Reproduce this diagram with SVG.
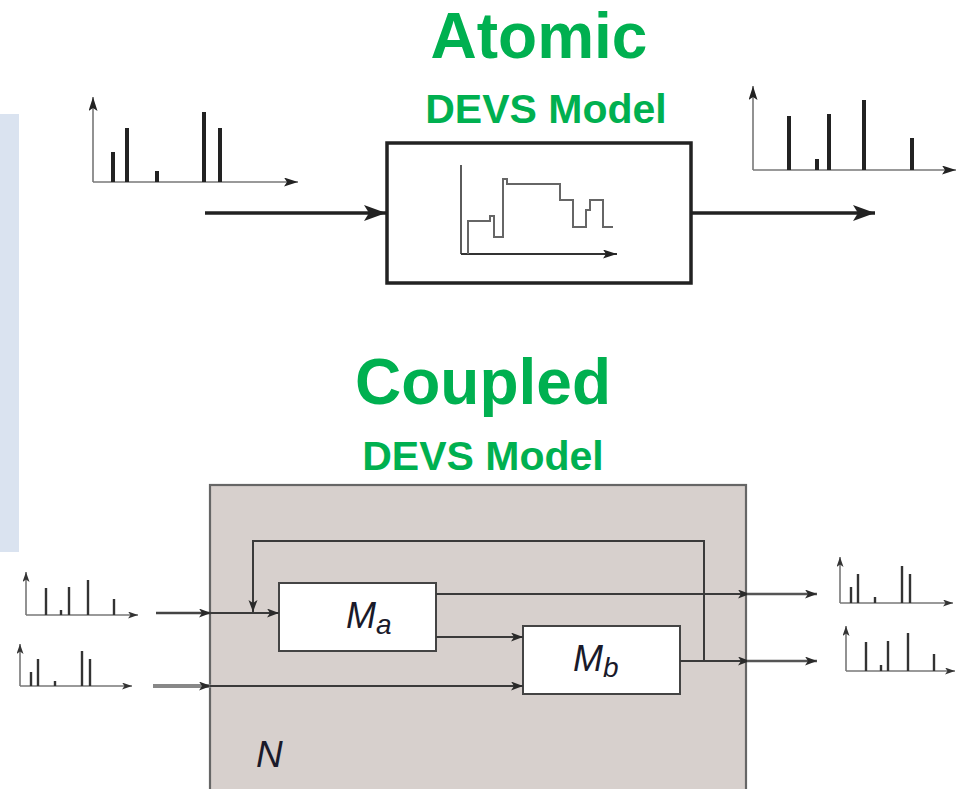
<svg xmlns="http://www.w3.org/2000/svg" width="956" height="789" viewBox="0 0 956 789">
<style>
.title{font-family:"Liberation Sans",Arial,sans-serif;font-weight:bold;fill:#00b050}
.lbl{font-family:"Liberation Sans",Arial,sans-serif;font-style:italic;fill:#1a1a2a}
.ax{stroke:#777;stroke-width:1.6;fill:none}
.spk{stroke:#222;stroke-width:4}
.spks{stroke:#333;stroke-width:2.4}
.big{stroke:#222;stroke-width:3.5;fill:none}
.cl{stroke:#3a3a3a;stroke-width:2;fill:none}
</style>
<defs>
<marker id="mBig" markerUnits="userSpaceOnUse" markerWidth="24" markerHeight="18" refX="22" refY="8" orient="auto"><path d="M0,0 L22,8 L0,16 L5,8 z" fill="#222"/></marker>
<marker id="mSm" markerUnits="userSpaceOnUse" markerWidth="14" markerHeight="10" refX="12" refY="4.5" orient="auto"><path d="M0,0 L12,4.5 L0,9 L3,4.5 z" fill="#2a2a2a"/></marker>
<marker id="mAx" markerUnits="userSpaceOnUse" markerWidth="12" markerHeight="8" refX="10" refY="3.5" orient="auto"><path d="M0,0 L10,3.5 L0,7 L2.5,3.5 z" fill="#333"/></marker>
<marker id="mAxL" markerUnits="userSpaceOnUse" markerWidth="16" markerHeight="10" refX="14" refY="4.5" orient="auto"><path d="M0,0 L14,4.5 L0,9 L3,4.5 z" fill="#222"/></marker>
</defs>
<rect x="0" y="114" width="19" height="438" fill="#dae3f0"/>
<g id="titles">
<text class="title" x="539" y="58" font-size="64" text-anchor="middle">Atomic</text>
<text class="title" x="546" y="123" font-size="41" text-anchor="middle">DEVS Model</text>
<text class="title" x="483" y="404" font-size="64" text-anchor="middle">Coupled</text>
<text class="title" x="483" y="470" font-size="41" text-anchor="middle">DEVS Model</text>
</g>
<g id="atomic">
<rect x="387" y="143" width="304" height="140" fill="#fff" stroke="#222" stroke-width="3.5"/>
<line x1="461" y1="165" x2="461" y2="254" stroke="#333" stroke-width="1.6"/>
<line x1="461" y1="254" x2="617" y2="254" stroke="#333" stroke-width="2" marker-end="url(#mAxL)"/>
<polyline fill="none" stroke="#666" stroke-width="2" points="468,254 468,221 490,221 490,216 494,216 494,237 503,237 503,179 507,179 507,184 560,184 560,200 573,200 573,227 586,227 586,210 590,210 590,200 603,200 603,227 613,227"/>
</g>
<g id="input-chart">
<line class="ax" x1="93" y1="182" x2="93" y2="97" marker-end="url(#mAxL)"/>
<line class="ax" x1="93" y1="182" x2="298" y2="182" marker-end="url(#mAxL)"/>
<line class="spk" x1="113" y1="182" x2="113" y2="152"/>
<line class="spk" x1="127" y1="182" x2="127" y2="128"/>
<line class="spk" x1="157" y1="182" x2="157" y2="171"/>
<line class="spk" x1="204" y1="182" x2="204" y2="112"/>
<line class="spk" x1="220" y1="182" x2="220" y2="128"/>
</g>
<g id="output-chart">
<line class="ax" x1="753" y1="170" x2="753" y2="86" marker-end="url(#mAxL)"/>
<line class="ax" x1="753" y1="170" x2="956" y2="170" marker-end="url(#mAxL)"/>
<line class="spk" x1="789" y1="170" x2="789" y2="116"/>
<line class="spk" x1="817" y1="170" x2="817" y2="159"/>
<line class="spk" x1="829" y1="170" x2="829" y2="114"/>
<line class="spk" x1="864" y1="170" x2="864" y2="100"/>
<line class="spk" x1="912" y1="170" x2="912" y2="138"/>
</g>
<g id="coupled">
<rect x="210" y="485" width="536" height="310" fill="#d7d0cd" stroke="#666" stroke-width="2.2"/>
<text class="lbl" x="256" y="767" font-size="37">N</text>
</g>
<g id="Ma">
<rect x="279" y="583" width="157" height="68" fill="#fff" stroke="#444" stroke-width="2"/>
<text class="lbl" x="346" y="628" font-size="36">M<tspan font-size="28" dy="6">a</tspan></text>
</g>
<g id="Mb">
<rect x="523" y="626" width="157" height="68" fill="#fff" stroke="#444" stroke-width="2"/>
<text class="lbl" x="573" y="671" font-size="36">M<tspan font-size="28" dy="6">b</tspan></text>
</g>
<g id="small-charts">
<line class="ax" x1="26" y1="615" x2="26" y2="572" marker-end="url(#mAx)"/>
<line class="ax" x1="26" y1="615" x2="138" y2="615" marker-end="url(#mAx)"/>
<line class="spks" x1="46" y1="615" x2="46" y2="588"/>
<line class="spks" x1="61" y1="615" x2="61" y2="610"/>
<line class="spks" x1="69" y1="615" x2="69" y2="587"/>
<line class="spks" x1="88" y1="615" x2="88" y2="580"/>
<line class="spks" x1="114" y1="615" x2="114" y2="599"/>
<line class="ax" x1="20" y1="686" x2="20" y2="644" marker-end="url(#mAx)"/>
<line class="ax" x1="20" y1="686" x2="132" y2="686" marker-end="url(#mAx)"/>
<line class="spks" x1="31" y1="686" x2="31" y2="672"/>
<line class="spks" x1="38" y1="686" x2="38" y2="659"/>
<line class="spks" x1="55" y1="686" x2="55" y2="681"/>
<line class="spks" x1="82" y1="686" x2="82" y2="651"/>
<line class="spks" x1="90" y1="686" x2="90" y2="659"/>
<line class="ax" x1="840" y1="603" x2="840" y2="557" marker-end="url(#mAx)"/>
<line class="ax" x1="840" y1="603" x2="953" y2="603" marker-end="url(#mAx)"/>
<line class="spks" x1="851" y1="603" x2="851" y2="587"/>
<line class="spks" x1="858" y1="603" x2="858" y2="574"/>
<line class="spks" x1="875" y1="603" x2="875" y2="597"/>
<line class="spks" x1="902" y1="603" x2="902" y2="566"/>
<line class="spks" x1="910" y1="603" x2="910" y2="574"/>
<line class="ax" x1="846" y1="671" x2="846" y2="626" marker-end="url(#mAx)"/>
<line class="ax" x1="846" y1="671" x2="955" y2="671" marker-end="url(#mAx)"/>
<line class="spks" x1="866" y1="671" x2="866" y2="642"/>
<line class="spks" x1="881" y1="671" x2="881" y2="665"/>
<line class="spks" x1="888" y1="671" x2="888" y2="641"/>
<line class="spks" x1="908" y1="671" x2="908" y2="633"/>
<line class="spks" x1="934" y1="671" x2="934" y2="654"/>
</g>
<g id="connectors">
<line class="big" x1="205" y1="213" x2="386" y2="213" marker-end="url(#mBig)"/>
<line class="big" x1="692" y1="213" x2="875" y2="213" marker-end="url(#mBig)"/>
<line x1="156" y1="613" x2="211" y2="613" stroke="#444" stroke-width="2.5" marker-end="url(#mSm)"/>
<line x1="153" y1="686" x2="211" y2="686" stroke="#888" stroke-width="4" marker-end="url(#mSm)"/>
<line class="cl" x1="210" y1="613" x2="279" y2="613" marker-end="url(#mSm)"/>
<polyline class="cl" points="704,661 704,541 253,541 253,612" marker-end="url(#mSm)"/>
<line class="cl" x1="210" y1="686" x2="523" y2="686" marker-end="url(#mSm)"/>
<line class="cl" x1="436" y1="637" x2="523" y2="637" marker-end="url(#mSm)"/>
<line class="cl" x1="436" y1="594" x2="750" y2="594" marker-end="url(#mSm)"/>
<line class="cl" x1="680" y1="661" x2="750" y2="661" marker-end="url(#mSm)"/>
<line x1="747" y1="594" x2="817" y2="594" stroke="#555" stroke-width="2.5" marker-end="url(#mSm)"/>
<line x1="747" y1="661" x2="817" y2="661" stroke="#555" stroke-width="2.5" marker-end="url(#mSm)"/>
</g>
</svg>
